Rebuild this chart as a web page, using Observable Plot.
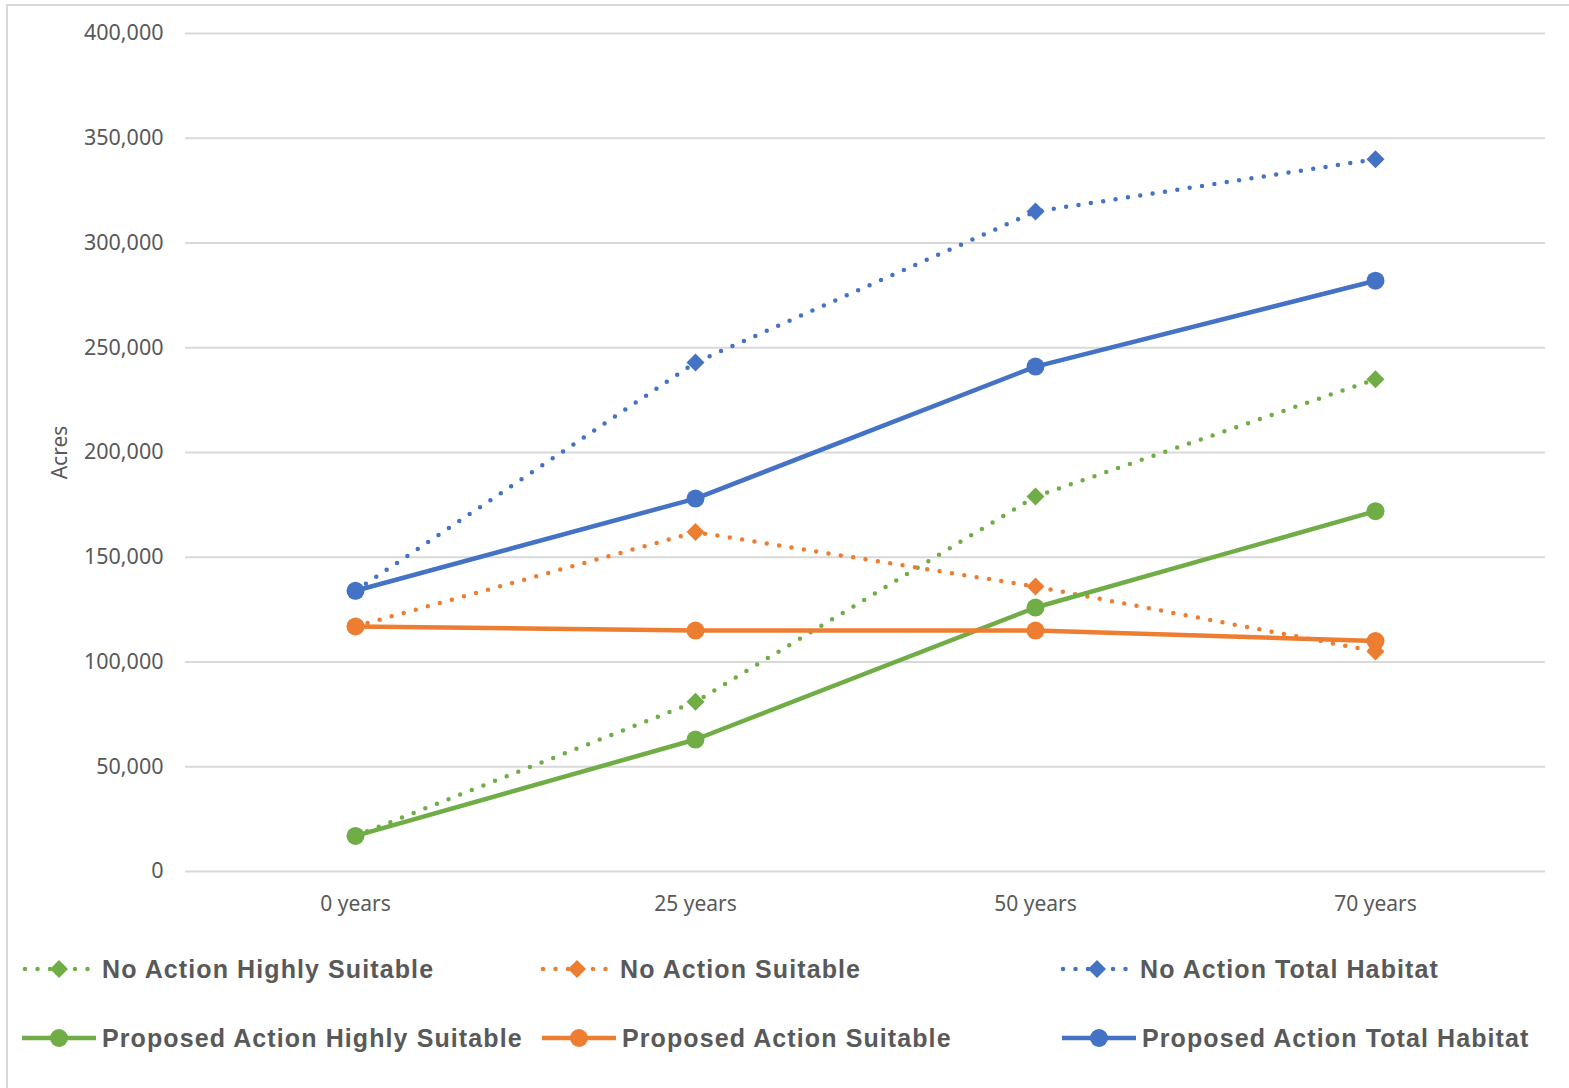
<!DOCTYPE html>
<html>
<head>
<meta charset="utf-8">
<script src="https://cdn.jsdelivr.net/npm/d3@7"></script>
<script src="https://cdn.jsdelivr.net/npm/@observablehq/plot@0.6"></script>
<style>
  html, body { margin: 0; padding: 0; background: #fff; }
  #wrap { position: relative; width: 1569px; height: 1088px; overflow: hidden; }
  #frame { position: absolute; left: 6px; top: 4px; width: 1600px; height: 1200px;
           border-left: 2px solid #d9d9d9; border-top: 2px solid #d9d9d9; }
  #chart { position: absolute; left: 0; top: 0; }
  .leg { position: absolute; display: flex; align-items: center;
         font-family: "Liberation Sans", Arial, sans-serif; font-weight: bold;
         font-size: 25px; letter-spacing: 1.1px; color: #595959; white-space: nowrap; }
  .leg svg { margin-right: 6px; }
</style>
</head>
<body>
<div id="wrap">
  <div id="frame"></div>
  <div id="chart"></div>
  <div id="legend"></div>
</div>
<script>
const periods = ["0 years", "25 years", "50 years", "70 years"];
const seriesNames = [
  "No Action Highly Suitable",
  "No Action Suitable",
  "No Action Total Habitat",
  "Proposed Action Highly Suitable",
  "Proposed Action Suitable",
  "Proposed Action Total Habitat"
];
const noActionHighlySuitable = [17000, 81000, 179000, 235000];
const noActionSuitable = [117000, 162000, 136000, 105000];
const noActionTotal = [134000, 243000, 315000, 340000];
const proposedHighlySuitable = [17000, 63000, 126000, 172000];
const proposedSuitable = [117000, 115000, 115000, 110000];
const proposedTotal = [134000, 178000, 241000, 282000];
const yTicks = [0, 50000, 100000, 150000, 200000, 250000, 300000, 350000, 400000];

const seriesValues = [noActionHighlySuitable, noActionSuitable, noActionTotal,
                      proposedHighlySuitable, proposedSuitable, proposedTotal];
const seriesColors = ["#70AD47", "#ED7D31", "#4472C4", "#70AD47", "#ED7D31", "#4472C4"];
const seriesDotted = [true, true, true, false, false, false];

const rows = [];
seriesNames.forEach((name, i) => {
  seriesValues[i].forEach((v, j) => rows.push({series: name, period: periods[j], value: v, idx: i}));
});

const FONT = "Noto Sans, Open Sans, sans-serif";
const marks = [
  Plot.ruleY(yTicks, {stroke: "#d9d9d9", strokeWidth: 2}),
  Plot.axisY({ticks: yTicks, tickSize: 0, tickPadding: 22, tickFormat: d3.format(","),
              fontSize: 21.5, fill: "#595959", label: null, fontFamily: FONT}),
  Plot.axisX({tickSize: 0, tickPadding: 25, fontSize: 21, fill: "#595959", label: null, fontFamily: FONT}),
  Plot.text(["Acres"], {frameAnchor: "left", textAnchor: "middle", dx: -125, rotate: -90, fontSize: 21,
              fill: "#595959", fontFamily: FONT})
];
seriesNames.forEach((name, i) => {
  const data = rows.filter(r => r.idx === i);
  marks.push(Plot.line(data, {x: "period", y: "value", stroke: seriesColors[i], strokeWidth: 4.5,
    strokeDasharray: seriesDotted[i] ? "0 12.5" : null, strokeLinecap: "round", strokeLinejoin: "round"}));
  marks.push(Plot.dot(data, {x: "period", y: "value", fill: seriesColors[i], stroke: "none",
    symbol: seriesDotted[i] ? "diamond2" : "circle", r: seriesDotted[i] ? 8.1 : 9}));
});

const chart = Plot.plot({
  width: 1569,
  height: 931,
  marginTop: 33,
  marginBottom: 60,
  marginLeft: 185,
  marginRight: 24,
  style: {background: "transparent", overflow: "visible"},
  x: {type: "point", domain: periods, padding: 0.5, axis: null},
  y: {domain: [0, 400000], axis: null},
  marks
});
document.getElementById("chart").appendChild(chart);

// Legend
const legendPos = [
  {x: 22, y: 969}, {x: 540, y: 969}, {x: 1060, y: 969},
  {x: 22, y: 1038}, {x: 542, y: 1038}, {x: 1062, y: 1038}
];
const legend = document.getElementById("legend");
seriesNames.forEach((name, i) => {
  const div = document.createElement("div");
  div.className = "leg";
  div.style.left = legendPos[i].x + "px";
  div.style.top = (legendPos[i].y - 16) + "px";
  div.style.height = "32px";
  const w = 74, cy = 16, cx = 37;
  const c = seriesColors[i];
  let svg = `<svg width="${w}" height="32" viewBox="0 0 ${w} 32">`;
  if (seriesDotted[i]) {
    svg += `<line x1="3" y1="${cy}" x2="${w-3}" y2="${cy}" stroke="${c}" stroke-width="4.5" stroke-linecap="round" stroke-dasharray="0 12.5"/>`;
    svg += `<path d="M${cx},${cy-9} L${cx+9},${cy} L${cx},${cy+9} L${cx-9},${cy} Z" fill="${c}"/>`;
  } else {
    svg += `<line x1="0" y1="${cy}" x2="${w}" y2="${cy}" stroke="${c}" stroke-width="4.5"/>`;
    svg += `<circle cx="${cx}" cy="${cy}" r="9" fill="${c}"/>`;
  }
  svg += `</svg>`;
  div.innerHTML = svg + `<span>${name}</span>`;
  legend.appendChild(div);
});
</script>
</body>
</html>
